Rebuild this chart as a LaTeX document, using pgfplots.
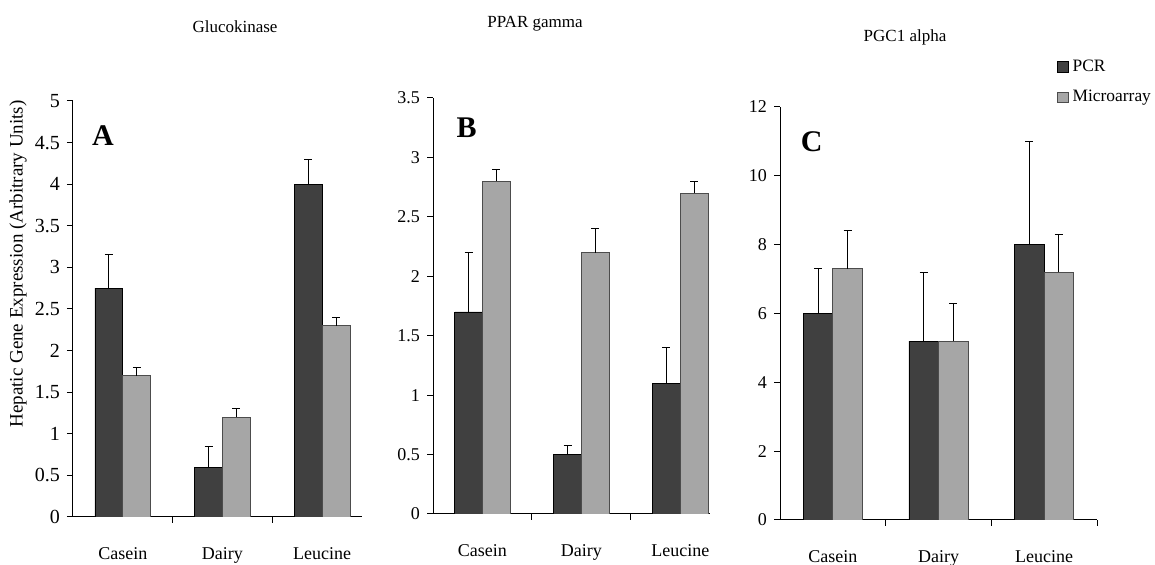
\documentclass[border=0pt]{standalone}
\usepackage{fontspec}
\setmainfont{Liberation Serif}
\usepackage{pgfplots}
\pgfplotsset{compat=1.18}
\definecolor{pcr}{HTML}{404040}
\definecolor{micro}{HTML}{A6A6A6}

\pgfplotsset{
  panel/.style={
    scale only axis, anchor=south west,
    ybar=0pt, bar width=0.28, xmin=0.5, ymin=0,
    axis x line*=bottom, axis y line*=left,
    axis line style={black, line width=0.5pt},
    tick align=outside, major tick length=3pt,
    tick style={black, line width=0.5pt},
    xtick={1.5,2.5}, xticklabels={},
    extra x ticks={1,2,3}, extra x tick labels={Casein,Dairy,Leucine},
    extra x tick style={major tick length=0pt,
      tick label style={font=\fontsize{9}{10}\selectfont, yshift=-12pt}},
    /pgf/number format/assume math mode=true,
    yticklabel style={font=\fontsize{9}{10}\selectfont},
    error bars/y dir=plus, error bars/y explicit,
    error bars/error mark=|,
    error bars/error mark options={black, mark size=2pt, line width=0.5pt},
    error bars/error bar style={black, line width=0.5pt},
  },
  pcrbar/.style={fill=pcr, draw=black, line width=0.4pt},
  microbar/.style={fill=micro, draw=black!70, line width=0.4pt},
}

\begin{document}
\begin{tikzpicture}
\path[use as bounding box] (0,0) rectangle (577.5pt,282.5pt);

% (A) Glucokinase
\begin{axis}[panel, at={(36.5pt,24pt)}, width=144.5pt, height=208pt,
  xmax=3.4, ymax=5, ytick={0,0.5,...,5},
  yticklabel style={font=\fontsize{10}{11}\selectfont},
  yticklabels={0,0.5,1,1.5,2,2.5,3,3.5,4,4.5,5}]
\addplot[pcrbar] coordinates {(1,2.75) +- (0,0.40) (2,0.60) +- (0,0.25) (3,4.00) +- (0,0.30)};
\addplot[microbar] coordinates {(1,1.70) +- (0,0.10) (2,1.20) +- (0,0.10) (3,2.30) +- (0,0.10)};
\node[font=\bfseries\fontsize{15}{16}\selectfont] at (axis cs:0.80,4.59) {A};
\end{axis}

% (B) PPAR gamma
\begin{axis}[panel, at={(216.5pt,25.5pt)}, width=138.5pt, height=208pt,
  xmax=3.3, ymax=3.5, ytick={0,0.5,...,3.5},
  yticklabels={0,0.5,1,1.5,2,2.5,3,3.5}]
\addplot[pcrbar] coordinates {(1,1.70) +- (0,0.50) (2,0.50) +- (0,0.08) (3,1.10) +- (0,0.30)};
\addplot[microbar] coordinates {(1,2.80) +- (0,0.10) (2,2.20) +- (0,0.20) (3,2.70) +- (0,0.10)};
\node[font=\bfseries\fontsize{15}{16}\selectfont] at (axis cs:0.84,3.25) {B};
\end{axis}

% (C) PGC1 alpha
\begin{axis}[panel, at={(390pt,22.5pt)}, width=158.5pt, height=206.5pt,
  xmax=3.5, ymax=12, ytick={0,2,...,12}, xtick={1.5,2.5,3.5},
  legend style={at={(0.874,1.125)}, anchor=north west, draw=none, fill=none,
    inner sep=0pt, font=\fontsize{8.7}{10}\selectfont, row sep=4pt,
    legend cell align=left},
  legend image code/.code={\draw[#1] (0pt,-2.6pt) rectangle (5.2pt,2.6pt);}]
\addplot[pcrbar] coordinates {(1,6.0) +- (0,1.3) (2,5.2) +- (0,2.0) (3,8.0) +- (0,3.0)};
\addlegendentry{PCR}
\addplot[microbar] coordinates {(1,7.3) +- (0,1.1) (2,5.2) +- (0,1.1) (3,7.2) +- (0,1.1)};
\addlegendentry{Microarray}
\node[font=\bfseries\fontsize{15}{16}\selectfont] at (axis cs:0.80,11.0) {C};
\end{axis}

% titles and y label
\node[font=\fontsize{8.5}{10}\selectfont] at (117.5pt,269pt) {Glucokinase};
\node[font=\fontsize{8.5}{10}\selectfont] at (267.5pt,270.5pt) {PPAR gamma};
\node[font=\fontsize{8.5}{10}\selectfont] at (452.5pt,264pt) {PGC1 alpha};
\node[rotate=90, font=\fontsize{9.5}{11}\selectfont] at (9pt,150.5pt) {Hepatic Gene Expression (Arbitrary Units)};
\end{tikzpicture}
\end{document}
